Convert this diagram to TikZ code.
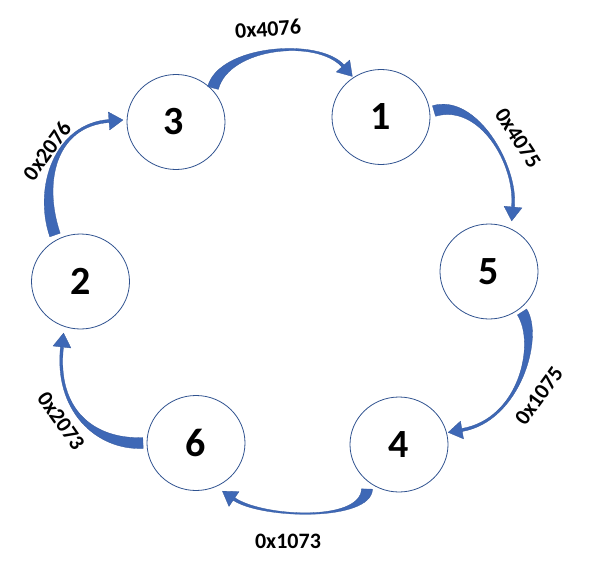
\documentclass[tikz,border=0pt]{standalone}
\usepackage{fontspec}
\setmainfont{Carlito}
\usetikzlibrary{calc,shapes.geometric}
\definecolor{ringline}{RGB}{47,82,143}
\definecolor{arrowblue}{RGB}{62,104,182}
\tikzset{
  circ/.style={ellipse, draw=ringline, line width=0.8pt, minimum width=98pt, minimum height=95pt, inner sep=0pt, font=\bfseries\fontsize{40}{48}\selectfont},
  lbl/.style={font=\bfseries\fontsize{22}{26}\selectfont, inner sep=0pt},
  arrowshape/.style={fill=arrowblue, draw=arrowblue!85!black, line width=0.3pt, line join=round}
}
\newcommand{\ringarrow}[4]{%
  \path[arrowshape]
    ($(#1)!5.5pt!90:(#2)$) .. controls ($(#2)!5.5pt!-90:(#1)$) and ($(#3)!1.5pt!90:(#4)$) .. ($(#4)!1.5pt!-90:(#3)$)
    -- ($(#4)!9pt!-90:(#3)$) -- ($(#4)!-14pt!(#3)$) -- ($(#4)!9pt!90:(#3)$) -- ($(#4)!1.5pt!90:(#3)$)
    .. controls ($(#3)!1.5pt!-90:(#4)$) and ($(#2)!5.5pt!90:(#1)$) .. ($(#1)!5.5pt!-90:(#2)$) -- cycle;
}
\begin{document}
\begin{tikzpicture}[x=1pt,y=-1pt]
\useasboundingbox (0,0) rectangle (591,570);
% circles
\node[circ] (n3) at (176,122) {\hspace*{-5pt}3};
\node[circ] (n1) at (381,117) {1};
\node[circ] (n5) at (489,271.5) {5};
\node[circ] (n4) at (399,444.5) {4};
\node[circ] (n6) at (196,443) {6};
\node[circ] (n2) at (80.5,281.5) {2};
% arrow geometry
\coordinate (a0) at (213,88);  \coordinate (a1) at (224,46);  \coordinate (a2) at (318,38);  \coordinate (a3) at (343,66);
\coordinate (b0) at (434,111); \coordinate (b1) at (478,98);  \coordinate (b2) at (517,165); \coordinate (b3) at (513,207);
\coordinate (c0) at (522,312); \coordinate (c1) at (540,340); \coordinate (c2) at (520,420); \coordinate (c3) at (462,430);
\coordinate (d0) at (367,489); \coordinate (d1) at (366,522); \coordinate (d2) at (262,518); \coordinate (d3) at (234,499);
\coordinate (e0) at (143,443); \coordinate (e1) at (95,445);  \coordinate (e2) at (55,410);  \coordinate (e3) at (62,347);
\coordinate (f0) at (55,235);  \coordinate (f1) at (38,185);  \coordinate (f2) at (55,125);  \coordinate (f3) at (109,121);
\ringarrow{a0}{a1}{a2}{a3}
\ringarrow{b0}{b1}{b2}{b3}
\ringarrow{c0}{c1}{c2}{c3}
\ringarrow{d0}{d1}{d2}{d3}
\ringarrow{e0}{e1}{e2}{e3}
\ringarrow{f0}{f1}{f2}{f3}
% labels
\node[lbl, rotate=4] (l4076) at (268,29) {0x4076};
\node[lbl, rotate=-57] (l4075) at (518,138) {0x4075};
\node[lbl, rotate=54] (l1075) at (539,396) {0x1075};
\node[lbl] (l1073) at (288,541) {0x1073};
\node[lbl, rotate=-55] (l2073) at (61,421) {0x2073};
\node[lbl, rotate=54] (l2076) at (47,151) {0x2076};
\end{tikzpicture}
\end{document}
